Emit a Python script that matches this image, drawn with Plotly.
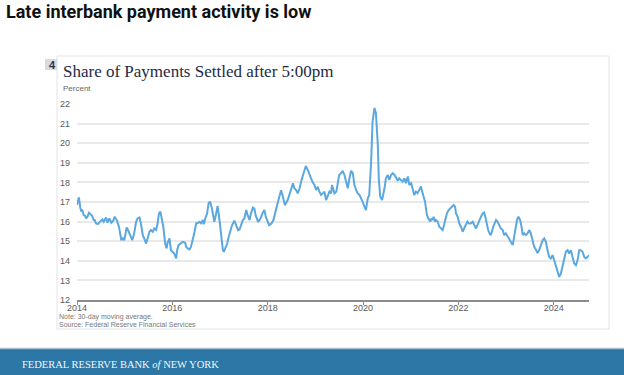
import plotly.graph_objects as go

# ---- data ----
years = [
    2014.00, 2014.02, 2014.04, 2014.07, 2014.09, 2014.11, 2014.14, 2014.17, 2014.19, 2014.22,
    2014.25, 2014.28, 2014.32, 2014.35, 2014.37, 2014.40, 2014.44, 2014.48, 2014.53, 2014.56,
    2014.61, 2014.64, 2014.68, 2014.72, 2014.76, 2014.79, 2014.83, 2014.88, 2014.90, 2014.93,
    2014.96, 2014.99, 2015.02, 2015.04, 2015.07, 2015.10, 2015.14, 2015.16, 2015.20, 2015.24,
    2015.27, 2015.31, 2015.34, 2015.38, 2015.41, 2015.45, 2015.48, 2015.52, 2015.55, 2015.59,
    2015.62, 2015.66, 2015.69, 2015.72, 2015.75, 2015.78, 2015.81, 2015.85, 2015.88, 2015.90,
    2015.94, 2015.97, 2016.01, 2016.04, 2016.08, 2016.10, 2016.13, 2016.17, 2016.22, 2016.27,
    2016.29, 2016.32, 2016.36, 2016.39, 2016.43, 2016.46, 2016.50, 2016.53, 2016.57, 2016.60,
    2016.64, 2016.66, 2016.69, 2016.73, 2016.76, 2016.79, 2016.83, 2016.88, 2016.92, 2016.95,
    2016.99, 2017.02, 2017.06, 2017.08, 2017.11, 2017.15, 2017.18, 2017.22, 2017.25, 2017.30,
    2017.34, 2017.38, 2017.41, 2017.45, 2017.48, 2017.51, 2017.55, 2017.58, 2017.62, 2017.65,
    2017.69, 2017.72, 2017.75, 2017.80, 2017.85, 2017.89, 2017.93, 2017.96, 2018.03, 2018.08,
    2018.12, 2018.18, 2018.25, 2018.28, 2018.32, 2018.36, 2018.42, 2018.48, 2018.53, 2018.56,
    2018.60, 2018.63, 2018.67, 2018.71, 2018.76, 2018.80, 2018.84, 2018.875, 2018.91, 2018.945,
    2018.98, 2019.015, 2019.05, 2019.085, 2019.12, 2019.155, 2019.19, 2019.225, 2019.26, 2019.295,
    2019.33, 2019.35, 2019.37, 2019.40, 2019.44, 2019.47, 2019.50, 2019.54, 2019.573, 2019.61,
    2019.645, 2019.68, 2019.715, 2019.75, 2019.785, 2019.82, 2019.855, 2019.89, 2019.925, 2019.96,
    2019.99, 2020.03, 2020.06, 2020.10, 2020.13, 2020.17, 2020.20, 2020.24, 2020.27, 2020.31,
    2020.33, 2020.36, 2020.40, 2020.45, 2020.48, 2020.52, 2020.55, 2020.59, 2020.62, 2020.66,
    2020.69, 2020.73, 2020.76, 2020.80, 2020.83, 2020.87, 2020.90, 2020.94, 2020.97, 2021.01,
    2021.04, 2021.075, 2021.11, 2021.145, 2021.18, 2021.215, 2021.24, 2021.27, 2021.30, 2021.32,
    2021.34, 2021.37, 2021.41, 2021.44, 2021.46, 2021.48, 2021.51, 2021.53, 2021.565, 2021.60,
    2021.635, 2021.67, 2021.69, 2021.72, 2021.76, 2021.795, 2021.83, 2021.865, 2021.90, 2021.93,
    2021.95, 2021.985, 2022.02, 2022.055, 2022.09, 2022.12, 2022.155, 2022.19, 2022.225, 2022.26,
    2022.30, 2022.33, 2022.37, 2022.40, 2022.44, 2022.475, 2022.51, 2022.54, 2022.565, 2022.60,
    2022.625, 2022.67, 2022.695, 2022.73, 2022.765, 2022.79, 2022.82, 2022.855, 2022.89, 2022.93,
    2022.96, 2022.995, 2023.03, 2023.07, 2023.10, 2023.14, 2023.17, 2023.205, 2023.23, 2023.26,
    2023.295, 2023.325, 2023.35, 2023.38, 2023.415, 2023.45, 2023.49, 2023.52, 2023.556, 2023.59,
    2023.63, 2023.66, 2023.695, 2023.735, 2023.77, 2023.80, 2023.835, 2023.87, 2023.905, 2023.94,
    2023.975, 2024.01, 2024.045, 2024.08, 2024.115, 2024.15, 2024.185, 2024.22, 2024.255, 2024.29,
    2024.325, 2024.36, 2024.395, 2024.43, 2024.465, 2024.50, 2024.535, 2024.57, 2024.605, 2024.64,
    2024.675, 2024.71, 2024.745,
]
share_after_5pm = [
    16.85, 17.05, 17.24, 16.70, 16.51, 16.62, 16.33, 16.30, 16.16, 16.25,
    16.45, 16.39, 16.28, 16.08, 16.08, 15.91, 15.87, 15.99, 16.11, 15.99,
    16.21, 15.94, 16.16, 15.94, 16.05, 16.25, 16.10, 15.74, 15.40, 15.05,
    15.14, 15.05, 15.40, 15.70, 15.57, 15.36, 15.14, 15.05, 15.40, 15.99,
    16.16, 16.21, 15.91, 15.31, 15.14, 14.88, 15.14, 15.48, 15.57, 15.48,
    15.65, 15.57, 15.91, 16.42, 16.51, 16.20, 15.74, 14.88, 14.63, 14.92,
    15.14, 14.54, 14.46, 14.37, 14.12, 14.54, 14.80, 14.88, 14.97, 14.92,
    14.71, 14.63, 14.58, 14.71, 15.05, 15.40, 15.91, 15.91, 15.99, 15.91,
    16.08, 15.87, 16.16, 16.42, 16.93, 17.02, 16.68, 15.99, 16.42, 16.80,
    16.05, 15.22, 14.54, 14.46, 14.63, 14.88, 15.20, 15.55, 15.80, 16.05,
    15.80, 15.56, 15.60, 15.90, 16.08, 16.16, 16.59, 16.33, 16.08, 16.42,
    16.72, 16.67, 16.30, 15.99, 16.16, 16.42, 16.59, 16.25, 15.82, 15.90,
    16.08, 16.67, 17.27, 17.60, 17.27, 16.84, 17.10, 17.60, 17.95, 17.70,
    17.60, 17.44, 17.70, 18.12, 18.55, 18.84, 18.64, 18.38, 18.21, 18.00,
    17.87, 17.61, 17.78, 17.53, 17.36, 17.44, 17.53, 17.10, 17.36, 17.53,
    17.44, 17.87, 17.70, 17.44, 17.53, 18.04, 18.38, 18.47, 18.59, 18.38,
    17.96, 17.70, 18.21, 18.59, 18.47, 17.87, 17.61, 17.44, 17.36, 17.19,
    17.02, 16.76, 16.59, 17.19, 17.36, 19.06, 21.10, 21.80, 21.54, 19.92,
    18.21, 17.27, 17.10, 17.70, 18.21, 18.38, 18.13, 18.38, 18.47, 18.38,
    18.21, 18.08, 18.21, 18.13, 18.04, 18.21, 17.96, 18.30, 17.87, 17.96,
    17.61, 17.36, 17.53, 17.45, 17.62, 17.79, 17.53, 17.27, 17.02, 16.68,
    16.34, 16.17, 16.00, 16.17, 16.08, 16.25, 16.00, 16.08, 16.00, 15.74,
    15.65, 15.57, 15.74, 16.08, 16.42, 16.59, 16.68, 16.76, 16.85, 16.76,
    16.42, 16.25, 15.90, 15.74, 15.48, 15.65, 15.82, 16.00, 15.90, 15.90,
    16.00, 15.82, 15.65, 15.82, 16.08, 16.25, 16.42, 16.46, 16.25, 15.82,
    15.57, 15.31, 15.40, 15.74, 15.90, 16.08, 16.00, 15.82, 15.65, 15.57,
    15.31, 15.40, 15.23, 15.06, 14.97, 14.80, 15.23, 15.65, 16.08, 16.25,
    16.08, 15.74, 15.31, 15.40, 15.31, 15.40, 15.57, 15.40, 15.10, 14.71,
    14.55, 14.40, 14.55, 14.80, 15.06, 15.14, 14.97, 14.54, 14.20, 14.12,
    14.29, 14.03, 13.78, 13.44, 13.18, 13.35, 13.78, 14.20, 14.46, 14.54,
    14.37, 14.54, 14.20, 13.86, 13.78, 14.03, 14.54, 14.54, 14.46, 14.20,
    14.12, 14.20, 14.29,
]
x_tick_vals = [2014, 2016, 2018, 2020, 2022, 2024]
x_tick_text = ["2014", "2016", "2018", "2020", "2022", "2024"]
y_tick_vals = [12, 13, 14, 15, 16, 17, 18, 19, 20, 21, 22]

# ---- layout geometry (pixels) ----
W, H = 624, 375
L, R, T, B = 77, 589, 104, 300


def px(x):
    return (x - L) / (R - L)


def py(y):
    return (B - y) / (B - T)


fig = go.Figure()
fig.add_trace(go.Scatter(
    x=years, y=share_after_5pm, mode="lines",
    line=dict(color="#5aa8df", width=2),
    hoverinfo="skip", showlegend=False,
))

shapes = [
    # chart card border
    dict(type="rect", xref="paper", yref="paper", x0=px(57), x1=px(609), y0=py(56), y1=py(329),
         line=dict(color="#e3e3e3", width=1), fillcolor="rgba(0,0,0,0)", layer="below"),
    # chart number box
    dict(type="rect", xref="paper", yref="paper", x0=px(45), x1=px(57), y0=py(59), y1=py(70),
         line=dict(width=0), fillcolor="#d9dadb", layer="below"),
    # bottom banner
    dict(type="rect", xref="paper", yref="paper", x0=px(0), x1=px(W), y0=py(349), y1=py(H),
         line=dict(width=0), fillcolor="#2c77a5", layer="below"),
    dict(type="line", xref="paper", yref="paper", x0=px(0), x1=px(W), y0=py(348.5), y1=py(348.5),
         line=dict(color="#aabfd3", width=1.5), layer="below"),
]

annotations = [
    dict(text="<b>Late interbank payment activity is low</b>", x=px(4), y=py(12),
         font=dict(family="Roboto", size=18, color="#111111")),
    dict(text="<b>4</b>", x=px(47), y=py(64.5),
         font=dict(family="Liberation Sans", size=11, color="#1d3557")),
    dict(text="Share of Payments Settled after 5:00pm", x=px(61), y=py(71),
         font=dict(family="Liberation Serif", size=17, color="#1d2b45")),
    dict(text="Percent", x=px(61), y=py(88.5),
         font=dict(family="Liberation Sans", size=8, color="#666666")),
    dict(text="Note: 30-day moving average.", x=px(57), y=py(316.5),
         font=dict(family="Liberation Sans", size=7, color="#777777")),
    dict(text="Source: Federal Reserve Financial Services", x=px(57), y=py(324),
         font=dict(family="Liberation Sans", size=7, color="#777777")),
    dict(text="FEDERAL RESERVE BANK <i>of</i> NEW YORK", x=px(20), y=py(364),
         font=dict(family="Liberation Serif", size=10.5, color="#f2f6fa")),
]
for a in annotations:
    a.update(xref="paper", yref="paper", xanchor="left", yanchor="middle", showarrow=False)

fig.update_layout(
    width=W, height=H,
    margin=dict(l=L, r=W - R, t=T, b=H - B, pad=0),
    paper_bgcolor="white", plot_bgcolor="white",
    shapes=shapes, annotations=annotations,
    xaxis=dict(range=[2014, 2024.74], tickmode="array", tickvals=x_tick_vals, ticktext=x_tick_text,
               showgrid=False, zeroline=False, showline=True, linecolor="#8c8c8c", linewidth=1.5,
               ticks="outside", ticklen=3, tickcolor="#8c8c8c", ticklabelstandoff=-5,
               tickfont=dict(family="Liberation Sans", size=9, color="#595959")),
    yaxis=dict(range=[12, 22], tickmode="array", tickvals=y_tick_vals,
               showgrid=True, gridcolor="#e9e9e9", gridwidth=1.5, zeroline=False, showline=False,
               ticks="", ticklabelstandoff=6,
               tickfont=dict(family="Liberation Sans", size=9, color="#595959")),
)

fig.write_html("out.html", config={"displayModeBar": False},
               post_script="document.body.style.margin='0';document.body.style.overflow='hidden';")
